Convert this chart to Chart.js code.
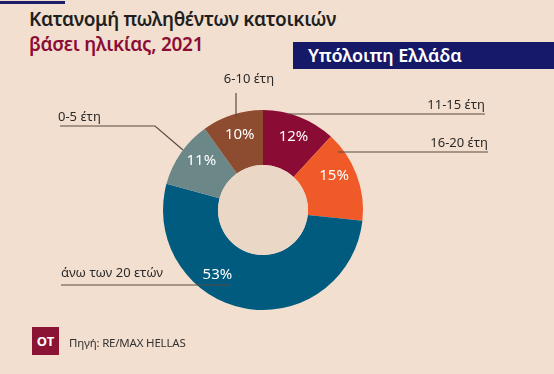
<!DOCTYPE html>
<html>
<head>
<meta charset="utf-8">
<script src="https://cdn.jsdelivr.net/npm/chart.js@4"></script>
<style>
  body { margin: 0; background: #f3dfcf; font-family: "Noto Sans", sans-serif; }
  #wrap { position: relative; width: 554px; height: 374px; overflow: hidden; background: #f3dfcf; }
  #chart { position: absolute; left: 0; top: 0; }
  .topline { position: absolute; left: 0; top: 1px; width: 65px; height: 3px; background: #1b1d6b; }
  .t1 { position: absolute; left: 29px; top: 6px; font-size: 19px; font-weight: 600; color: #1f1f1f; white-space: nowrap; letter-spacing: -0.3px; }
  .t2 { position: absolute; left: 29px; top: 31px; font-size: 19px; font-weight: 600; color: #8b0d35; white-space: nowrap; letter-spacing: -0.3px; }
  .banner { position: absolute; left: 293px; top: 42px; width: 261px; height: 27px; background: #161868; color: #fff; font-size: 18px; font-weight: 600; line-height: 27px; padding-left: 15px; box-sizing: border-box; white-space: nowrap; }
  .ot { position: absolute; left: 32px; top: 327px; width: 27px; height: 28px; background: #8b1434; color: #fff; font-size: 13px; font-weight: 700; line-height: 28px; text-align: center; }
  .src { position: absolute; left: 69px; top: 335px; font-size: 11.5px; color: #333; white-space: nowrap; letter-spacing: -0.2px; }
</style>
</head>
<body>
<div id="wrap">
  <div class="topline"></div>
  <div class="t1">Κατανομή πωληθέντων κατοικιών</div>
  <div class="t2">βάσει ηλικίας, 2021</div>
  <div class="banner">Υπόλοιπη Ελλάδα</div>
  <canvas id="chart" width="554" height="374"></canvas>
  <div class="ot">OT</div>
  <div class="src">Πηγή: RE/MAX HELLAS</div>
</div>
<script>
// data, clockwise from 12 o'clock
const categories = ['11-15 έτη', '16-20 έτη', 'άνω των 20 ετών', '0-5 έτη', '6-10 έτη'];
const shares = [12, 15, 53, 11, 10];
const colors = ['#8a0b34', '#f05a28', '#005b7f', '#6b8787', '#8d4b2f'];

// where along each arc the % label sits (0..1) and callout layout
const labelFrac = [0.53, 0.4, 0.63, 0.6, 0.52];
const callouts = [
  { text: [485, 105, 'right'], line: [[485, 114], [287, 114]] },
  { text: [488, 143, 'right'], line: [[488, 152], [338, 152]] },
  { text: [61, 273, 'left'], line: [[61, 285], [230, 285]] },
  { text: [58, 117, 'left'], line: [[60, 126], [155, 126], [183, 150]] },
  { text: [249, 79, 'center'], line: [[236, 93], [236, 117]] }
];

const labelsPlugin = {
  id: 'sliceLabels',
  afterDraw(chart) {
    const ctx = chart.ctx;
    const arcs = chart.getDatasetMeta(0).data;
    ctx.save();
    // hole fill
    const a0 = arcs[0];
    ctx.beginPath();
    ctx.arc(a0.x, a0.y, a0.innerRadius, 0, Math.PI * 2);
    ctx.fillStyle = '#ebd7c6';
    ctx.fill();

    ctx.font = '15px "Noto Sans", sans-serif';
    ctx.fillStyle = '#ffffff';
    ctx.textAlign = 'center';
    ctx.textBaseline = 'middle';
    arcs.forEach((arc, i) => {
      const ang = arc.startAngle + (arc.endAngle - arc.startAngle) * labelFrac[i];
      const r = arc.outerRadius * 0.79;
      ctx.fillText(shares[i] + '%', arc.x + Math.cos(ang) * r, arc.y + Math.sin(ang) * r);
    });

    ctx.strokeStyle = '#5a4a40';
    ctx.lineWidth = 1.2;
    ctx.fillStyle = '#2a2a2a';
    ctx.font = '13px "Noto Sans", sans-serif';
    callouts.forEach((c, i) => {
      ctx.beginPath();
      c.line.forEach((p, j) => j ? ctx.lineTo(p[0], p[1]) : ctx.moveTo(p[0], p[1]));
      ctx.stroke();
      ctx.textAlign = c.text[2];
      ctx.fillText(categories[i], c.text[0], c.text[1]);
    });
    ctx.restore();
  }
};

new Chart(document.getElementById('chart'), {
  type: 'doughnut',
  data: {
    labels: categories,
    datasets: [{
      data: shares,
      backgroundColor: colors,
      borderWidth: 0
    }]
  },
  options: {
    responsive: false,
    animation: false,
    cutout: '45%',
    layout: { padding: { left: 163, right: 191, top: 110, bottom: 64 } },
    plugins: { legend: { display: false }, tooltip: { enabled: false } }
  },
  plugins: [labelsPlugin]
});
</script>
</body>
</html>
